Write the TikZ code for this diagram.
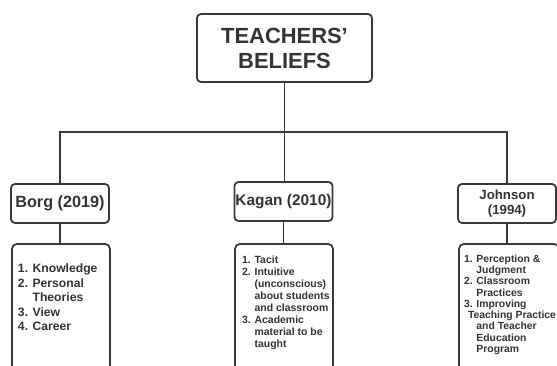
\documentclass[tikz,border=0pt]{standalone}
\usepackage{fontspec}
\setmainfont{Liberation Sans}
\usepackage{tikz}
\definecolor{inkgray}{HTML}{333333}
\definecolor{linegray}{HTML}{3A3A3A}
% list text, top aligned in a fixed panel: width, height, top gap, left gap, lines
\newcommand{\listpanel}[5]{\parbox[c][#2][t]{#1}{\raggedright\leftskip=#4\relax\parindent=0pt\vspace*{#3}#5}}

\begin{document}
\begin{tikzpicture}[x=1bp, y=-1bp,
	headbox/.style={draw=linegray, line width=1.8bp, rounded corners=4bp, text=inkgray, align=center, inner sep=1bp},
	authorbox/.style={headbox, minimum width=98bp, minimum height=39bp, font=\bfseries\fontsize{16.3}{18}\selectfont},
	listbox/.style={draw=linegray, line width=1.8bp, rounded corners=5bp, text=inkgray, inner sep=0pt, anchor=north, font=\bfseries},
	link/.style={draw=linegray, line width=1.5bp}]
	\path[use as bounding box, clip] (0,0) rectangle (557,365);
	\fill[white] (0,0) rectangle (557,365);
	
	% title
	\node[headbox, minimum width=175bp, minimum height=68bp, font=\bfseries\fontsize{22}{25}\selectfont] (beliefs) at (284.5,48) {TEACHERS'\\BELIEFS};
	
	% authors
	\node[authorbox] (borg) at (60,203.5) {Borg (2019)};
	\node[authorbox, font=\bfseries\fontsize{15.5}{18}\selectfont] (kagan) at (283.5,201.5) {Kagan (2010)};
	\node[authorbox, font=\bfseries\fontsize{13.3}{14.5}\selectfont] (johnson) at (507,203.5) {Johnson\\(1994)};
	
	% lists
	\node[listbox] (borglist) at (61,243) {\listpanel{98bp}{135bp}{20bp}{6bp}{\fontsize{12.2}{14.5}\selectfont
		1. Knowledge\\2. Personal\\\phantom{2. }Theories\\3. View\\4. Career}};
	\node[listbox] (kaganlist) at (284,243) {\listpanel{98bp}{135bp}{12bp}{7bp}{\fontsize{10.5}{12}\selectfont
		1. Tacit\\2. Intuitive\\\phantom{2. }(unconscious)\\\phantom{2. }about students\\\phantom{2. }and classroom\\3. Academic\\\phantom{3. }material to be\\\phantom{3. }taught}};
	\node[listbox] (johnsonlist) at (509,243) {\listpanel{100bp}{135bp}{11bp}{5bp}{\fontsize{10.4}{11.3}\selectfont
		1. Perception \&\\\phantom{1. }Judgment\\2. Classroom\\\phantom{2. }Practices\\3. Improving\\\hspace*{4bp}Teaching Practice\\\phantom{3. }and Teacher\\\phantom{3. }Education\\\phantom{3. }Program}};
	
	% connectors
	\coordinate (split) at (284.5,132);
	\draw[link] (beliefs.south) -- (split);
	\draw[link] (borg.north) |- (split) -| (johnson.north);
	\draw[link] (split) -- (split |- kagan.north);
	\draw[link] (borg.south) -- (borg.south |- borglist.north);
	\draw[link] (kagan.south) -- (kagan.south |- kaganlist.north);
	\draw[link] (johnson.south) -- (johnson.south |- johnsonlist.north);
\end{tikzpicture}
\end{document}
